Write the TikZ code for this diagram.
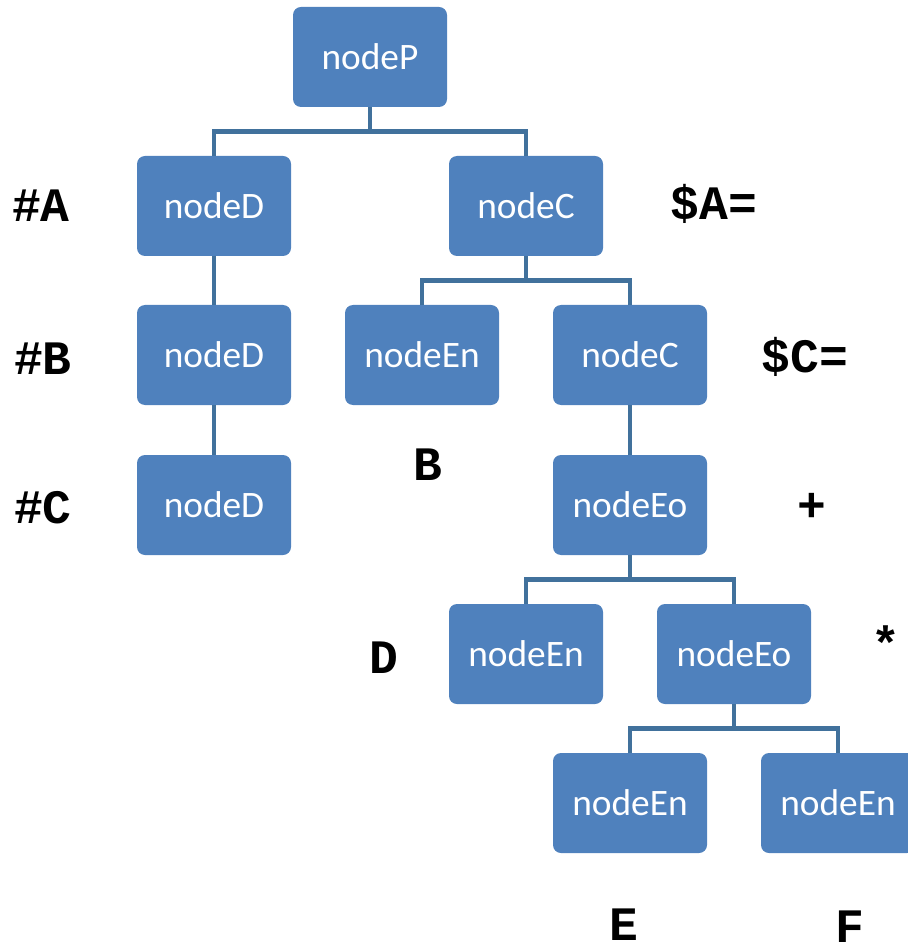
\documentclass[tikz,border=0pt]{standalone}
\usepackage{fontspec}
\setmainfont{Carlito}
\newfontfamily\labelfont{Liberation Mono}
\definecolor{boxblue}{RGB}{79,129,189}
\definecolor{linkblue}{RGB}{65,113,156}
\tikzset{
  treebox/.style={fill=boxblue, rounded corners=6pt, minimum width=115.5pt, minimum height=75pt,
    text=white, font=\fontsize{28}{32}\selectfont, inner sep=0pt},
  link/.style={draw=linkblue, line width=3.5pt},
  tag/.style={font=\labelfont\bfseries\fontsize{36}{38}\selectfont, inner sep=0pt}
}
\begin{document}
\begin{tikzpicture}[x=0.75pt,y=0.75pt,yscale=-1,xscale=1]
\path[use as bounding box] (0,0) rectangle (907,944);

% Boxes
\node[treebox] (nP) at (370,57) {nodeP};
\node[treebox] (nDa) at (214,206) {nodeD};
\node[treebox] (nCa) at (526,206) {nodeC};
\node[treebox] (nDb) at (214,355) {nodeD};
\node[treebox] (nEna) at (422,355) {nodeEn};
\node[treebox] (nCb) at (630,355) {nodeC};
\node[treebox] (nDc) at (214,505) {nodeD};
\node[treebox] (nEoa) at (630,505) {nodeEo};
\node[treebox] (nEnb) at (526,654) {nodeEn};
\node[treebox] (nEob) at (734,654) {nodeEo};
\node[treebox] (nEnc) at (630,803) {nodeEn};
\node[treebox] (nEnd) at (838,803) {nodeEn};

% Connectors
\draw[link] (nP.south) -- ++(0,24) -| (nDa.north);
\draw[link] (nP.south) -- ++(0,24) -| (nCa.north);
\draw[link] (nDa.south) -- (nDb.north);
\draw[link] (nDb.south) -- (nDc.north);
\draw[link] (nCa.south) -- ++(0,24) -| (nEna.north);
\draw[link] (nCa.south) -- ++(0,24) -| (nCb.north);
\draw[link] (nCb.south) -- (nEoa.north);
\draw[link] (nEoa.south) -- ++(0,24) -| (nEnb.north);
\draw[link] (nEoa.south) -- ++(0,24) -| (nEob.north);
\draw[link] (nEob.south) -- ++(0,24) -| (nEnc.north);
\draw[link] (nEob.south) -- ++(0,24) -| (nEnd.north);

% Labels
\node[tag] (tA) at (41,206) {\#A};
\node[tag] (tB) at (43,359) {\#B};
\node[tag] (tC) at (43,508) {\#C};
\node[tag] (tSA) at (714,204) {\$A=};
\node[tag] (tSC) at (805,357) {\$C=};
\node[tag] (tb) at (428,465) {B};
\node[tag] (tplus) at (812,507) {+};
\node[tag] (td) at (384,658) {D};
\node[tag] (tstar) at (886,643) {*};
\node[tag] (te) at (624,925) {E};
\node[tag] (tf) at (850,927) {F};

\end{tikzpicture}
\end{document}
